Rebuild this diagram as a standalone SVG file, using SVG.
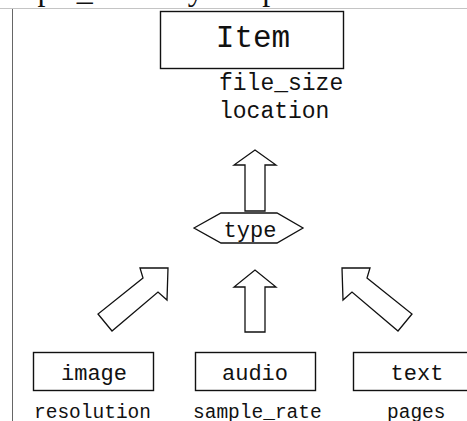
<svg xmlns="http://www.w3.org/2000/svg" width="467" height="421" viewBox="0 0 467 421">
<style>
.box{fill:#fff;stroke:#111;stroke-width:1.4}
.arr{fill:#fff;stroke:#111;stroke-width:1.3;stroke-linejoin:miter}
.lbl{font-family:"Liberation Mono","DejaVu Sans Mono",monospace;fill:#111}
</style>
<rect width="467" height="421" fill="#fff"/>
<text x="-14" y="-0.5" font-family="Liberation Serif, serif" font-size="32" fill="#111">sample_rate may be specified.</text>
<line x1="0" y1="8.5" x2="467" y2="8.5" stroke="#c4c4c4" stroke-width="1"/>
<line x1="12.5" y1="9" x2="12.5" y2="421" stroke="#666" stroke-width="1"/>
<g id="item">
<rect class="box" x="160.5" y="11.5" width="183" height="57"/>
<text class="lbl" x="253" y="47" font-size="31" text-anchor="middle">Item</text>
<text class="lbl" x="219" y="90" font-size="23">file_size</text>
<text class="lbl" x="219" y="118" font-size="23">location</text>
</g>
<g id="type">
<polygon class="arr" points="194,228 221,213 277,213 303,228 277,243 221,243"/>
<text class="lbl" x="250" y="237" font-size="22" text-anchor="middle">type</text>
</g>
<g id="image">
<rect class="box" x="33.5" y="352.5" width="120" height="38"/>
<text class="lbl" x="94" y="380" font-size="22" text-anchor="middle">image</text>
<text class="lbl" x="34" y="418" font-size="19.5">resolution</text>
</g>
<g id="audio">
<rect class="box" x="195.5" y="352.5" width="120" height="38"/>
<text class="lbl" x="255" y="380" font-size="22" text-anchor="middle">audio</text>
<text class="lbl" x="193" y="418" font-size="19.5">sample_rate</text>
</g>
<g id="text">
<rect class="box" x="353.5" y="352.5" width="128" height="38"/>
<text class="lbl" x="417" y="380" font-size="22" text-anchor="middle">text</text>
<text class="lbl" x="387" y="418" font-size="19.5">pages</text>
</g>
<g id="connectors">
<polygon class="arr" points="245,211 245,165 234,165 255,150 276,165 265,165 265,211"/>
<polygon class="arr" points="245,332 245,287 234,287 255,270 276,287 265,287 265,332"/>
<polygon class="arr" points="140,268 168,268 167,300 158,292 112,331 98,314 143,278"/>
<polygon class="arr" points="370,268 342,268 343,300 352,292 398,331 412,314 367,278"/>
</g>
</svg>
